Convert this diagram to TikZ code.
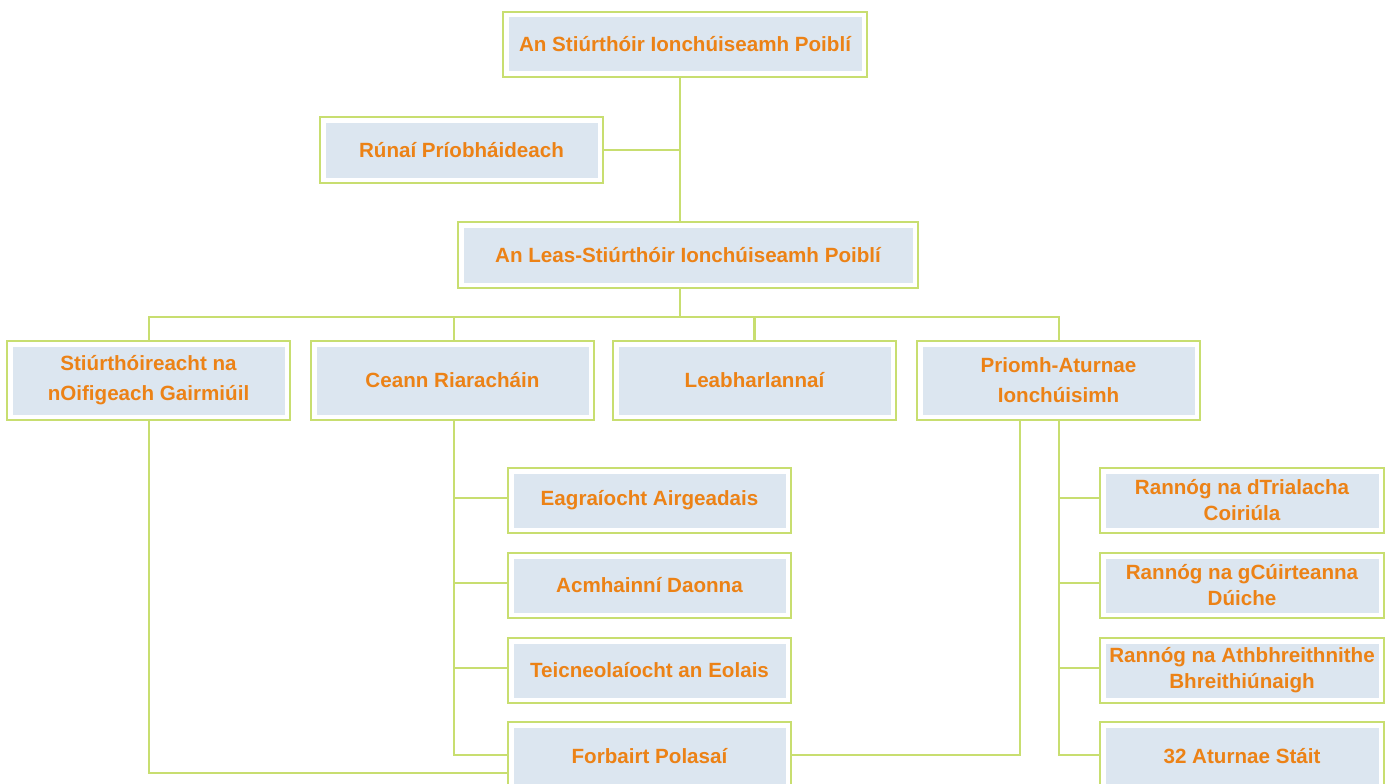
\documentclass[tikz,border=0pt]{standalone}
\usepackage{fontspec}
\setmainfont{Liberation Sans}
\definecolor{linegreen}{RGB}{200,222,112}
\definecolor{fillblue}{RGB}{220,230,240}
\definecolor{textorange}{RGB}{236,130,22}
\tikzset{
  orgbox/.style={draw=linegreen, line width=2.3pt, fill=white, inner sep=0pt,
    minimum width=283pt, minimum height=65pt, align=center, text=textorange,
    font=\bfseries\fontsize{20.6}{26}\selectfont,
    path picture={\fill[fillblue]
      ([shift={(5.5pt,5.5pt)}]path picture bounding box.south west) rectangle
      ([shift={(-5.5pt,-5.5pt)}]path picture bounding box.north east);}},
  rowbox/.style={orgbox, minimum height=79pt, font=\bfseries\fontsize{20.6}{30}\selectfont},
  conn/.style={draw=linegreen, line width=2.3pt}
}
\begin{document}
\begin{tikzpicture}[x=1pt,y=-1pt]
\useasboundingbox (0,0) rectangle (1393,784);
\clip (0,0) rectangle (1393,784);
\node[orgbox, minimum width=364pt] (top) at (685,44.5) {An Stiúrthóir Ionchúiseamh Poiblí};
\node[orgbox, minimum height=66pt] (runai) at (461.5,150) {Rúnaí Príobháideach};
\node[orgbox, minimum width=460pt, minimum height=66pt] (leas) at (688,255) {An Leas-Stiúrthóir Ionchúiseamh Poiblí};
\node[rowbox] (stiur) at (148.5,380.5) {Stiúrthóireacht na\\nOifigeach Gairmiúil};
\node[rowbox] (ceann) at (452.5,380.5) {Ceann Riaracháin};
\node[rowbox] (leab) at (754.5,380.5) {Leabharlannaí};
\node[rowbox] (prio) at (1058.5,380.5) {Priomh-Aturnae\\Ionchúisimh};
\node[orgbox] (eag) at (649.5,500.5) {Eagraíocht Airgeadais};
\node[orgbox] (acmh) at (649.5,585.5) {Acmhainní Daonna};
\node[orgbox] (teic) at (649.5,670.5) {Teicneolaíocht an Eolais};
\node[orgbox, minimum height=68pt] (forb) at (649.5,756) {Forbairt Polasaí};
\node[orgbox, minimum width=284pt] (trial) at (1242,500.5) {Rannóg na dTrialacha\\Coiriúla};
\node[orgbox, minimum width=284pt] (cuirt) at (1242,585.5) {Rannóg na gCúirteanna\\Dúiche};
\node[orgbox, minimum width=284pt] (athb) at (1242,670.5) {Rannóg na Athbhreithnithe\\Bhreithiúnaigh};
\node[orgbox, minimum width=284pt, minimum height=68pt] (aturn) at (1242,756) {32 Aturnae Stáit};
\coordinate (spine) at (680,0);
\coordinate (bus) at (0,317);
\coordinate (pl) at (1020,0);
\coordinate (pr) at (1059,0);
\coordinate (cx) at (454,0);
\coordinate (sx) at (149,0);
\draw[conn] (spine |- top.south) -- (spine |- leas.north);
\draw[conn] (runai.east) -- (runai.east -| spine);
\draw[conn] (spine |- leas.south) -- (spine |- bus);
\draw[conn] (sx |- stiur.north) -- (sx |- bus) -- (pr |- bus) -- (pr |- prio.north);
\draw[conn] (cx |- ceann.north) -- (cx |- bus);
\draw[conn] (leab.north) -- (leab.north |- bus);
\draw[conn] (sx |- stiur.south) |- ([yshift=-17pt]forb.west);
\draw[conn] (cx |- ceann.south) |- ([yshift=1pt]forb.west);
\draw[conn] (cx |- eag.west) ++(0,-2.5) -- ([yshift=2.5pt]eag.west);
\draw[conn] (cx |- acmh.west) ++(0,-2.5) -- ([yshift=2.5pt]acmh.west);
\draw[conn] (cx |- teic.west) ++(0,-2.5) -- ([yshift=2.5pt]teic.west);
\draw[conn] (pl |- prio.south) |- ([yshift=1pt]forb.east);
\draw[conn] (pr |- prio.south) |- ([yshift=1pt]aturn.west);
\draw[conn] (pr |- trial.west) ++(0,-2.5) -- ([yshift=2.5pt]trial.west);
\draw[conn] (pr |- cuirt.west) ++(0,-2.5) -- ([yshift=2.5pt]cuirt.west);
\draw[conn] (pr |- athb.west) ++(0,-2.5) -- ([yshift=2.5pt]athb.west);
\end{tikzpicture}
\end{document}
